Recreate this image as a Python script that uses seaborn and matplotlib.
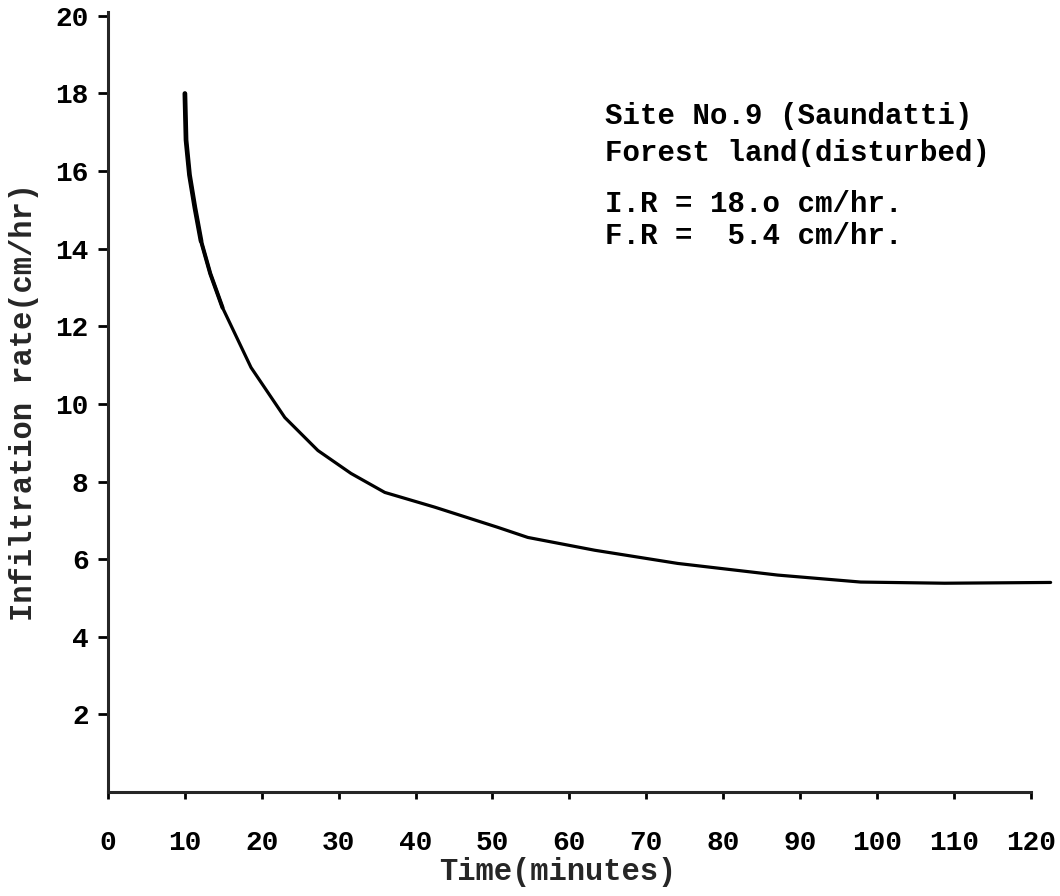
import matplotlib
matplotlib.use("Agg")
import matplotlib.pyplot as plt
import seaborn as sns
import pandas as pd

# Infiltration rate over time, Site No.9 (Saundatti)
time_min = [10.0, 10.15, 10.6, 11.3, 12.1, 13.3, 14.9, 18.6, 23.0, 27.3,
            31.6, 36.0, 42.5, 50.7, 54.6, 63.3, 74.1, 87.1, 97.9, 108.8,
            122.6]
rate_cm_hr = [18.0, 16.8, 15.9, 15.06, 14.2, 13.36, 12.48, 10.94, 9.65, 8.80,
              8.21, 7.72, 7.34, 6.82, 6.56, 6.23, 5.89, 5.59, 5.41, 5.38,
              5.4]

x_ticks = [0, 10, 20, 30, 40, 50, 60, 70, 80, 90, 100, 110, 120]
y_ticks = [2, 4, 6, 8, 10, 12, 14, 16, 18, 20]

note_lines = ["Site No.9 (Saundatti)", "Forest land(disturbed)",
              "I.R = 18.o cm/hr.", "F.R =  5.4 cm/hr."]
note_y = [17.43, 16.47, 15.16, 14.33]

sns.set_theme(style="ticks")
plt.rcParams["font.family"] = ["Liberation Mono", "DejaVu Sans Mono"]
plt.rcParams["font.weight"] = "bold"

fig = plt.figure(figsize=(10.6, 8.96), dpi=100)
ax = fig.add_axes([108 / 1060, 104 / 896, 948 / 1060, 780 / 896])

df = pd.DataFrame({"Time": time_min, "Rate": rate_cm_hr})
sns.lineplot(data=df, x="Time", y="Rate", ax=ax, color="black",
             linewidth=2.3, sort=False, estimator=None,
             solid_joinstyle="round", solid_capstyle="round")
# heavier ink on the steep opening stretch of the curve
sns.lineplot(data=df.iloc[:5], x="Time", y="Rate", ax=ax, color="black",
             linewidth=3.4, sort=False, estimator=None,
             solid_joinstyle="round", solid_capstyle="round")
sns.lineplot(data=df.iloc[4:7], x="Time", y="Rate", ax=ax, color="black",
             linewidth=2.9, sort=False, estimator=None,
             solid_joinstyle="round", solid_capstyle="round")

ax.set_xlim(0, 123.3)
ax.set_ylim(0, 20.1)
ax.set_xticks(x_ticks)
ax.set_xticklabels([str(v) for v in x_ticks])
ax.set_yticks(y_ticks)
ax.set_yticklabels([str(v) for v in y_ticks])

for side in ("top", "right"):
    ax.spines[side].set_visible(False)
ax.spines["left"].set_linewidth(2.2)
ax.spines["bottom"].set_linewidth(2.2)
ax.spines["bottom"].set_bounds(0, 120)
ax.spines["left"].set_bounds(0, 20.1)

ax.tick_params(axis="x", direction="out", length=5, width=2, pad=22,
               labelsize=20, colors="black")
ax.tick_params(axis="y", direction="out", length=7, width=2, pad=7,
               labelsize=20, colors="black")
for lbl in ax.get_xticklabels() + ax.get_yticklabels():
    lbl.set_fontweight("bold")

ax.set_xlabel("Time(minutes)", fontsize=22, fontweight="bold")
ax.xaxis.set_label_coords(0.474, -0.083)
ax.set_ylabel("Infiltration rate(cm/hr)", fontsize=22, fontweight="bold",
              labelpad=12)

for line, yv in zip(note_lines, note_y):
    ax.text(64.6, yv, line, fontsize=21, fontweight="bold", ha="left",
            va="center", color="black")

fig.savefig("out.png", dpi=100, facecolor="white")
